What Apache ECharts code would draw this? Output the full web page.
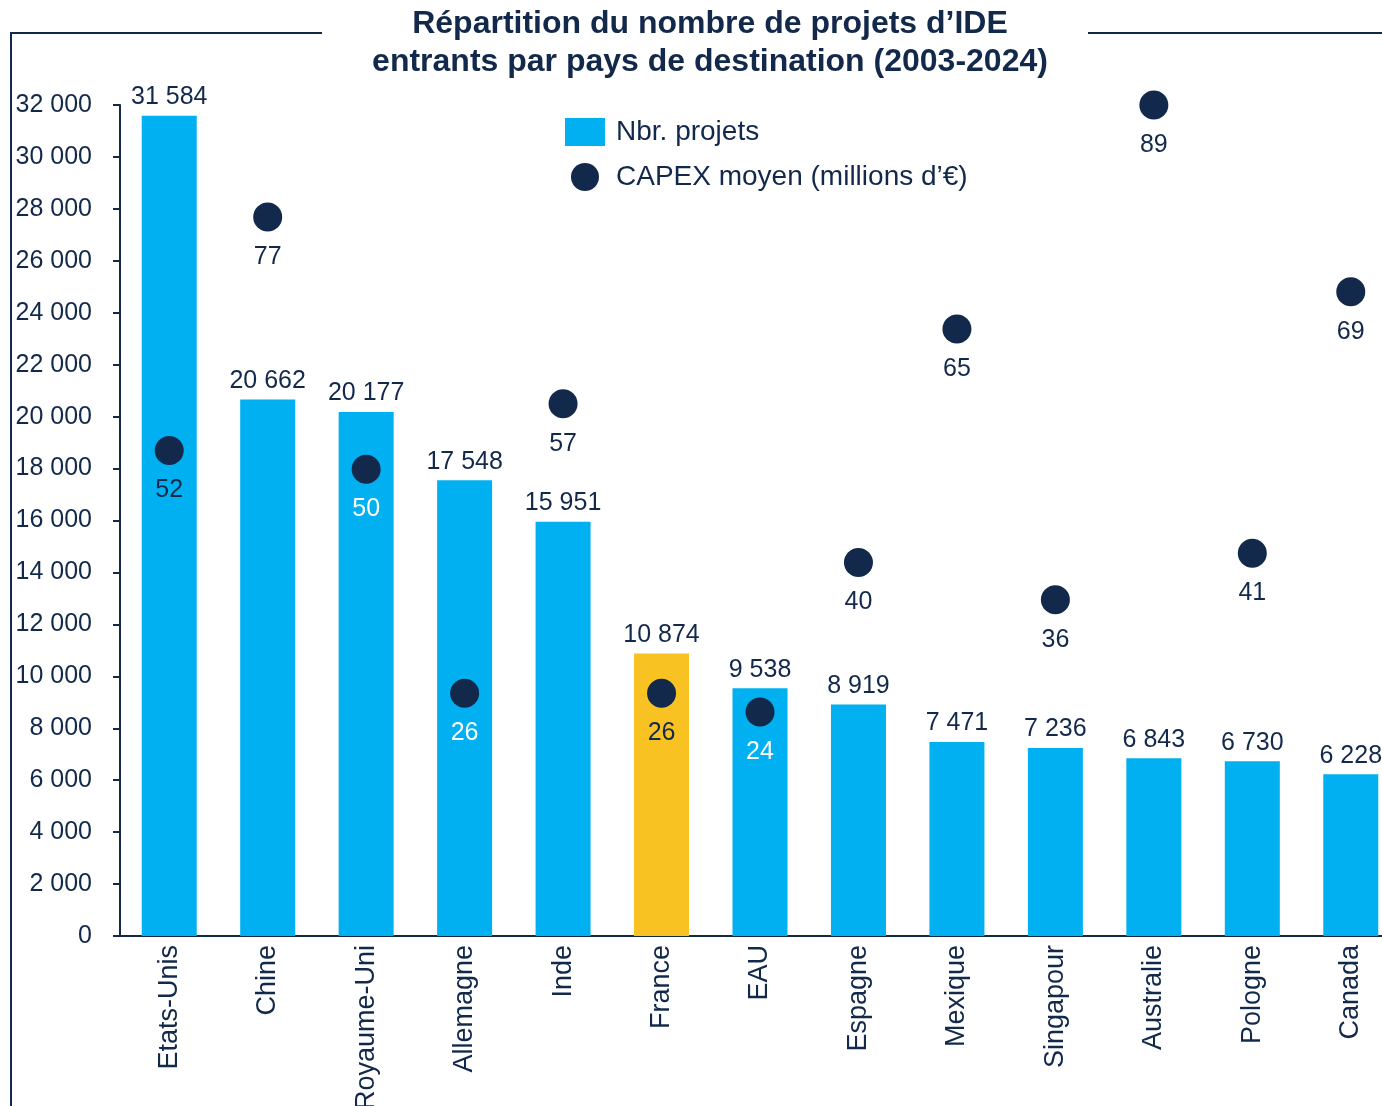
<!DOCTYPE html>
<html>
<head>
<meta charset="utf-8">
<script src="https://cdn.jsdelivr.net/npm/echarts@6/dist/echarts.min.js"></script>
<style>
  html, body { margin: 0; padding: 0; background: #fff; }
  #main { width: 1382px; height: 1106px; }
</style>
</head>
<body>
<div id="main"></div>
<script>
var pays = ['Etats-Unis', 'Chine', 'Royaume-Uni', 'Allemagne', 'Inde', 'France', 'EAU',
            'Espagne', 'Mexique', 'Singapour', 'Australie', 'Pologne', 'Canada'];
var nbrProjets = [31584, 20662, 20177, 17548, 15951, 10874, 9538, 8919, 7471, 7236, 6843, 6730, 6228];
var capexMoyen = [52, 77, 50, 26, 57, 26, 24, 40, 65, 36, 89, 41, 69];
// labels drawn in white when the dot sits on a bar
var capexBlanc = ['Royaume-Uni', 'Allemagne', 'EAU'];
var yTicks = [0, 32000, 2000];

var navy = '#13294b';
var bleu = '#00b0f0';
var jaune = '#f8c322';
var police = "'Liberation Sans', Arial, sans-serif";

function fmt(v) {
    return String(v).replace(/\B(?=(\d{3})+(?!\d))/g, ' ');
}

var chart = echarts.init(document.getElementById('main'));
var option = {
    backgroundColor: '#fff',
    textStyle: { fontFamily: police },
    title: {
        text: 'Répartition du nombre de projets d’IDE\nentrants par pays de destination (2003-2024)',
        left: 705,
        textAlign: 'center',
        top: 0,
        textStyle: { fontSize: 32, fontWeight: 'bold', color: navy, lineHeight: 38, fontFamily: police }
    },
    legend: {
        orient: 'vertical',
        left: 565,
        top: 118,
        padding: 0,
        itemWidth: 40,
        itemHeight: 28,
        itemGap: 17,
        selectedMode: false,
        textStyle: { fontSize: 28, color: navy, padding: [0, 0, 0, 6], fontFamily: police },
        data: [
            { name: 'Nbr. projets', icon: 'rect' },
            { name: 'CAPEX moyen (millions d’€)', icon: 'circle' }
        ]
    },
    grid: { left: 120, right: -18, top: 105, bottom: 170, containLabel: false, outerBoundsMode: 'none' },
    xAxis: {
        type: 'category',
        data: pays,
        axisLine: { lineStyle: { color: navy, width: 2 } },
        axisTick: { show: false },
        axisLabel: { rotate: 90, fontSize: 27, color: navy, margin: 9, fontFamily: police }
    },
    yAxis: [{
        type: 'value',
        min: yTicks[0],
        max: yTicks[1],
        interval: yTicks[2],
        splitLine: { show: false },
        axisLine: { show: true, lineStyle: { color: navy, width: 2 } },
        axisTick: { show: true, length: 7, lineStyle: { color: navy, width: 2 } },
        axisLabel: { fontSize: 25, color: navy, margin: 28, formatter: fmt, fontFamily: police }
    }, {
        type: 'value',
        min: 0,
        max: 89,
        show: false
    }],
    series: [{
        name: 'Nbr. projets',
        type: 'bar',
        barWidth: 55,
        itemStyle: { color: bleu },
        label: {
            show: true,
            position: 'top',
            distance: 6,
            fontSize: 25,
            color: navy,
            fontFamily: police,
            formatter: function (p) { return fmt(p.value); }
        },
        data: nbrProjets.map(function (v, i) {
            return pays[i] === 'France' ? { value: v, itemStyle: { color: jaune } } : v;
        })
    }, {
        name: 'CAPEX moyen (millions d’€)',
        type: 'scatter',
        yAxisIndex: 1,
        symbolSize: 29,
        itemStyle: { color: navy, opacity: 1 },
        z: 5,
        label: {
            show: true,
            position: 'bottom',
            distance: 13,
            fontSize: 25,
            color: navy,
            fontFamily: police
        },
        data: capexMoyen.map(function (v, i) {
            if (capexBlanc.indexOf(pays[i]) >= 0) {
                return { value: v, label: { color: '#fff' } };
            }
            return v;
        })
    }],
    graphic: [
        { type: 'line', shape: { x1: 10, y1: 33, x2: 322, y2: 33 }, style: { stroke: navy, lineWidth: 2 } },
        { type: 'line', shape: { x1: 1088, y1: 33, x2: 1382, y2: 33 }, style: { stroke: navy, lineWidth: 2 } },
        { type: 'line', shape: { x1: 11, y1: 32, x2: 11, y2: 1106 }, style: { stroke: navy, lineWidth: 2 } }
    ]
};
chart.setOption(option);
</script>
</body>
</html>
